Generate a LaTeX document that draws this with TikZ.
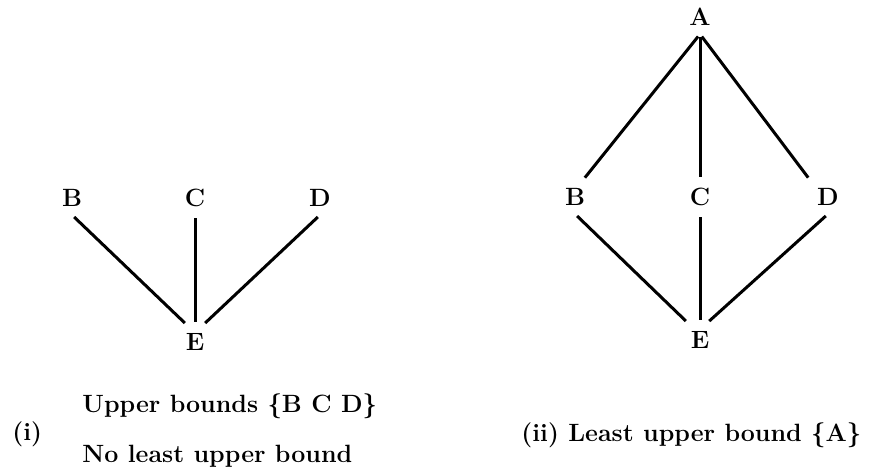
\documentclass[tikz,border=0pt]{standalone}
\usetikzlibrary{positioning}

\begin{document}
\begin{tikzpicture}[
  x=0.5pt, y=-0.5pt,
  font=\fontsize{12.5}{15}\selectfont\bfseries,
  elem/.style={inner sep=4pt},
  link/.style={line width=1.5pt, shorten <=1.5pt, shorten >=1.5pt},
  capt/.style={anchor=base west, inner sep=0pt}
]
\useasboundingbox (0,0) rectangle (879,469);

% (i) no least upper bound
\node[elem] (bl) at (72,198) {B};
\node[elem] (cl) at (195,198) {C};
\node[elem] (dl) at (320,198) {D};
\node[elem] (el) at (195,342) {E};

\draw[link] (bl.south) -- ([xshift=-4pt]el.north);
\draw[link] (cl) -- (el);
\draw[link] (dl.south) -- ([xshift=4pt]el.north);

% (ii) least upper bound A
\node[elem] (ar) at (700,17) {A};
\node[elem] (br) at (575,197) {B};
\node[elem] (cr) at (700,197) {C};
\node[elem] (dr) at (828,197) {D};
\node[elem] (er) at (700,340) {E};

\draw[link] (ar.south) -- ([xshift=4pt]br.north);
\draw[link] (ar) -- (cr);
\draw[link] (ar.south) -- ([xshift=-9pt]dr.north);
\draw[link] (br.south) -- ([xshift=-6pt]er.north);
\draw[link] (cr) -- (er);
\draw[link] (dr.south) -- ([xshift=3.5pt]er.north);

% captions
\node[capt] (capi) at (12,441) {(i)};
\node[capt] (ubs) at (82,413) {Upper bounds \{B C D\}};
\node[capt] (nolub) at (82,463) {No least upper bound};
\node[capt] (capii) at (521,442) {(ii) Least upper bound \{A\}};
\end{tikzpicture}
\end{document}
